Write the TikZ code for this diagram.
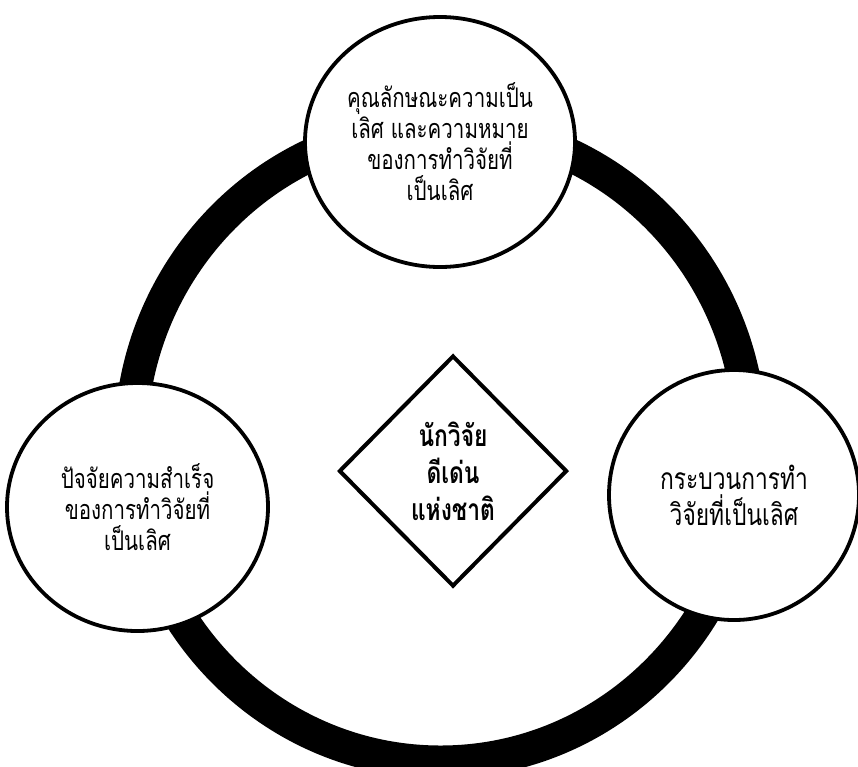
\documentclass[tikz,border=0pt]{standalone}
\usepackage{fontspec}
\usetikzlibrary{shapes.geometric}
\newfontfamily\thaifont[Script=Thai,FakeStretch=0.76]{Loma}
\tikzset{
  bubble/.style={ellipse, draw=black, line width=3.8pt, fill=white, inner sep=0pt,
    align=center, font=\thaifont\fontsize{27}{31}\selectfont},
  centre/.style={diamond, draw=black, line width=4pt, fill=white, inner sep=0pt,
    minimum width=228pt, minimum height=231pt, align=center,
    font=\thaifont\bfseries\fontsize{30}{37}\selectfont},
}
\begin{document}
\begin{tikzpicture}[x=1pt,y=-1pt]
\useasboundingbox (0,0) rectangle (858,766);
\fill[white] (0,0) rectangle (858,766);
\coordinate (ringc) at (440.5,444);
\draw[line width=33pt] (ringc) ellipse [x radius=310pt, y radius=318pt];
\node[bubble, minimum width=270pt, minimum height=250pt] (top) at (440,142)
  {คุณลักษณะความเป็น\\เลิศ และความหมาย\\ของการทำวิจัยที่\\เป็นเลิศ};
\node[bubble, minimum width=261pt, minimum height=248pt] (left) at (137.5,507)
  {ปัจจัยความสำเร็จ\\ของการทำวิจัยที่\\เป็นเลิศ};
\node[bubble, minimum width=250pt, minimum height=250pt,
  font=\thaifont\fontsize{30}{36}\selectfont] (right) at (734,495)
  {กระบวนการทำ\\วิจัยที่เป็นเลิศ};
\node[centre] (mid) at (453,471) {นักวิจัย\\ดีเด่น\\แห่งชาติ};
\end{tikzpicture}
\end{document}
